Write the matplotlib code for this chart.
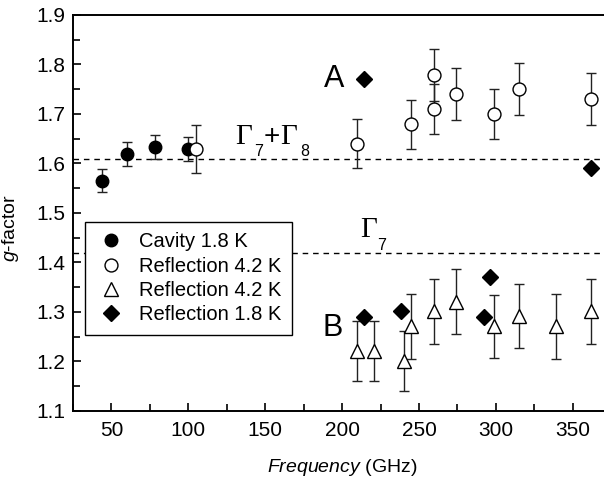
import matplotlib
matplotlib.use("Agg")
import matplotlib.pyplot as plt
from matplotlib.ticker import MultipleLocator, FormatStrFormatter

plt.rcParams['font.family'] = ['Liberation Sans', 'DejaVu Sans']
plt.rcParams['mathtext.fontset'] = 'custom'
plt.rcParams['mathtext.it'] = 'Liberation Sans:italic'
plt.rcParams['mathtext.rm'] = 'Liberation Sans'

# -------- data --------
cav_f = [44, 60, 78, 100]
cav_g = [1.565, 1.619, 1.634, 1.629]
cav_err = [0.023, 0.024, 0.024, 0.025]

ref42c_f = [105, 210, 245, 260, 260, 274, 299, 315, 362]
ref42c_g = [1.629, 1.640, 1.679, 1.779, 1.710, 1.740, 1.700, 1.750, 1.730]
ref42c_err = [0.049, 0.049, 0.050, 0.052, 0.051, 0.052, 0.050, 0.052, 0.052]

ref42t_f = [210, 221, 240, 245, 260, 274, 299, 315, 339, 362]
ref42t_g = [1.221, 1.221, 1.201, 1.271, 1.301, 1.321, 1.271, 1.292, 1.271, 1.301]
ref42t_err = [0.061, 0.061, 0.060, 0.066, 0.065, 0.065, 0.063, 0.064, 0.066, 0.065]

ref18_f = [214, 362, 214, 238, 292, 296]
ref18_g = [1.770, 1.590, 1.290, 1.302, 1.290, 1.371]

g78 = 1.61
g7 = 1.42

fig = plt.figure(figsize=(6.04, 4.78), dpi=100)
ax = fig.add_axes([0.1209, 0.1402, 0.891, 0.8285])

ekw = dict(fmt='none', ecolor='#222222', elinewidth=1.0, capsize=3.3, capthick=1.0, zorder=2)
ax.errorbar(cav_f, cav_g, yerr=cav_err, **ekw)
ax.errorbar(ref42c_f, ref42c_g, yerr=ref42c_err, **ekw)
ax.errorbar(ref42t_f, ref42t_g, yerr=ref42t_err, **ekw)

ax.plot(cav_f, cav_g, 'o', ms=9, mfc='black', mec='black', ls='none', zorder=3, label='Cavity 1.8 K')
ax.plot(ref42c_f, ref42c_g, 'o', ms=9.3, mfc='white', mec='black', mew=1.0, ls='none', zorder=3, label='Reflection 4.2 K')
ax.plot(ref42t_f, ref42t_g, '^', ms=10.5, mfc='white', mec='black', mew=1.0, ls='none', zorder=3, label='Reflection 4.2 K')
ax.plot(ref18_f, ref18_g, 'D', ms=8, mfc='black', mec='black', ls='none', zorder=3, label='Reflection 1.8 K')

ax.axhline(g78, color='black', ls=(0, (4, 3.5)), lw=1.0, zorder=1)
ax.axhline(g7, color='black', ls=(0, (4, 3.5)), lw=1.0, zorder=1)


def gamma_label(x, y, parts):
    # parts: list of (text, dx_pt, dy_pt, size, family)
    for s, dx, dy, size, fam in parts:
        ax.annotate(s, xy=(x, y), xytext=(dx, dy), textcoords='offset points',
                    fontsize=size, family=fam, ha='left', va='baseline')


serif = 'Liberation Serif'
sans = 'Liberation Sans'
gamma_label(130.7, 1.639, [('\u0393', 0, 0, 21, serif), ('7', 13.4, -8.6, 11.5, sans),
                           ('+', 20.0, 0, 20, sans), ('\u0393', 32.3, 0, 21, serif),
                           ('8', 46.3, -8.6, 11.5, sans)])
gamma_label(211.5, 1.451, [('\u0393', 0, 0, 21, serif), ('7', 12.4, -9.1, 11.5, sans)])

ax.text(195, 1.77, 'A', fontsize=22, va='center', ha='center')
ax.text(194, 1.267, 'B', fontsize=22, va='center', ha='center')

ax.set_xlim(25, 375)
ax.set_ylim(1.1, 1.9)
ax.xaxis.set_major_locator(MultipleLocator(50))
ax.xaxis.set_minor_locator(MultipleLocator(25))
ax.yaxis.set_major_locator(MultipleLocator(0.1))
ax.yaxis.set_minor_locator(MultipleLocator(0.05))
ax.yaxis.set_major_formatter(FormatStrFormatter('%.1f'))
ax.tick_params(which='both', direction='in', top=False, right=False, labelsize=15, width=1.2)
ax.tick_params(which='major', length=6)
ax.tick_params(which='minor', length=5)
ax.tick_params(axis='x', pad=7)
ax.tick_params(axis='y', pad=5.5)
for s in ax.spines.values():
    s.set_linewidth(1.4)

ax.set_xlabel(r'$Frequency$ (GHz)', fontsize=14)
ax.set_ylabel(r'$g$-factor', fontsize=14)
ax.xaxis.set_label_coords(0.5, -0.115)
ax.yaxis.set_label_coords(-0.097, 0.462)

leg = ax.legend(loc='upper left', bbox_to_anchor=(0.0225, 0.477), borderaxespad=0,
                fontsize=14.5, frameon=True, fancybox=False, edgecolor='black', framealpha=1,
                labelspacing=0.27, handletextpad=0.58, handlelength=1.6, borderpad=0.5)
leg.get_frame().set_linewidth(1.0)

fig.savefig('out.png', dpi=100)
